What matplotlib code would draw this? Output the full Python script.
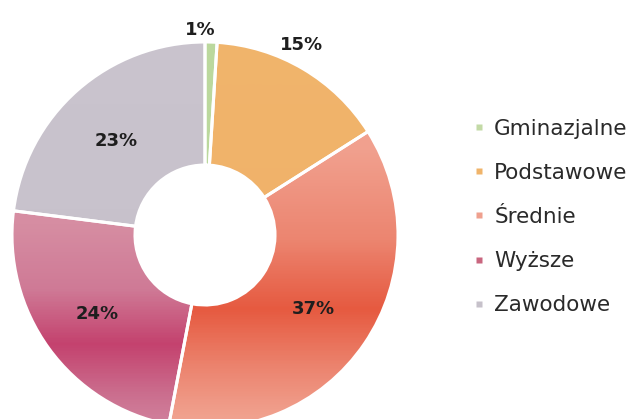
import numpy as np
import matplotlib
matplotlib.use("Agg")
import matplotlib.pyplot as plt
from matplotlib.colors import LinearSegmentedColormap, Normalize
from matplotlib.lines import Line2D

categories = ["Gminazjalne", "Podstawowe", "Średnie", "Wyższe", "Zawodowe"]
shares = [1, 15, 37, 24, 23]
legend_colors = ["#C3DAA6", "#F0B46A", "#EFA08E", "#C9667F", "#C6C1CA"]

# vertical colour ramps per slice: (row from top of image, colour)
ramps = [
    [(0, "#BBD89E"), (419, "#BBD89E")],
    [(0, "#F1B56C"), (419, "#EFB068")],
    [(0, "#F3A593"), (150, "#F1A08E"), (240, "#EC8570"), (310, "#E65A40"), (370, "#EC8570"), (419, "#F1A290")],
    [(0, "#D78FA4"), (225, "#D68DA2"), (290, "#CF7A96"), (345, "#C4426E"), (395, "#CB6E8E"), (419, "#D07E9A")],
    [(0, "#CAC4CE"), (419, "#C6C0CA")],
]

W, H = 640, 419
cx, cy = 205, H - 235
r_out, r_in = 193, 70

fig = plt.figure(figsize=(6.4, 4.19), dpi=100)
ax = fig.add_axes([0, 0, 1, 1])

wedges, _ = ax.pie(
    shares,
    colors=legend_colors,
    startangle=90,
    counterclock=False,
    center=(cx, cy),
    radius=r_out,
    wedgeprops=dict(width=r_out - r_in, edgecolor="white", linewidth=2.2),
    frame=True,
)

ys = np.linspace(0, H, 420).reshape(-1, 1)
norm = Normalize(0, H)
for w, stops in zip(wedges, ramps):
    pts = [((H - row) / H, c) for row, c in stops]
    pts.sort(key=lambda p: p[0])
    cmap = LinearSegmentedColormap.from_list("ramp", pts)
    img = ax.imshow(ys, extent=[0, W, 0, H], origin="lower", cmap=cmap,
                    norm=norm, aspect="auto", zorder=1.5, interpolation="bilinear")
    img.set_clip_path(w)
    w.set_facecolor("none")
    w.set_zorder(2)

# percentage labels: first two outside the ring, the rest mid-ring
mid = (r_in + r_out) / 2
label_r = [205, 210, mid, mid, mid]
label_off = [(-11, 0), (-10, 9), (0, 0), (-1, -2), (-2, -5)]
for w, v, r, (dx, dy) in zip(wedges, shares, label_r, label_off):
    ang = np.deg2rad((w.theta1 + w.theta2) / 2)
    ax.text(cx + r * np.cos(ang) + dx, cy + r * np.sin(ang) + dy, f"{v}%",
            ha="center", va="center", fontsize=13, fontweight="bold",
            color="#1E1E1E", family="DejaVu Sans", zorder=3)

handles = [Line2D([], [], marker="s", linestyle="none", markersize=5,
                  markerfacecolor=c, markeredgecolor="none") for c in legend_colors]
ax.legend(handles, categories, loc="center left", bbox_to_anchor=(463 / W, (H - 217) / H),
          frameon=False, prop=dict(family="DejaVu Sans", size=15.5), labelcolor="#2A2A2A",
          handlelength=0.5, handletextpad=0.45, labelspacing=1.12, borderpad=0)

ax.set_xlim(0, W)
ax.set_ylim(0, H)
ax.set_aspect("auto")
ax.axis("off")

fig.savefig("out.png", dpi=100)
